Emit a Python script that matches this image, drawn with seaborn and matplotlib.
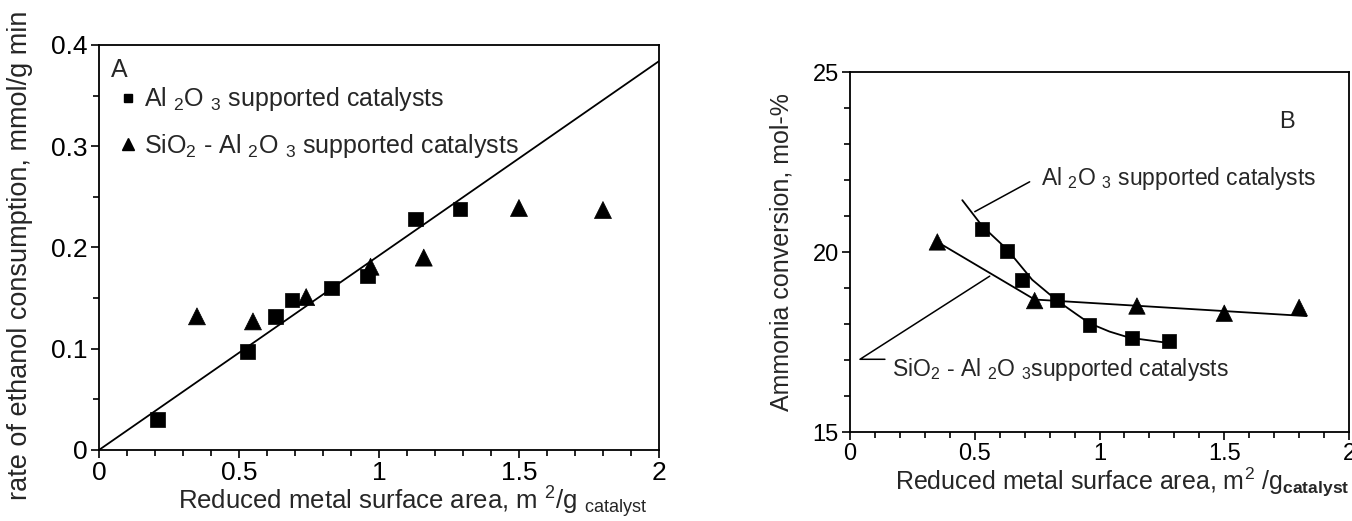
"""
Two-panel catalyst comparison: ethanol consumption rate (A) and ammonia
conversion (B) against reduced metal surface area.
"""

import matplotlib.pyplot as plt
import matplotlib.ticker as mticker
import pandas as pd
import seaborn as sns

# --- Data ---

# Panel A: rate of ethanol consumption, mmol/g min
a_al_x = [0.21, 0.53, 0.63, 0.69, 0.83, 0.96, 1.13, 1.29]
a_al_y = [0.030, 0.097, 0.132, 0.148, 0.160, 0.172, 0.228, 0.238]
a_si_x = [0.35, 0.55, 0.74, 0.97, 1.16, 1.50, 1.80]
a_si_y = [0.132, 0.127, 0.151, 0.181, 0.190, 0.239, 0.237]
a_fit_x = [0.0, 2.0]
a_fit_y = [0.0, 0.384]

# Panel B: ammonia conversion, mol-%
b_al_x = [0.53, 0.63, 0.69, 0.83, 0.96, 1.13, 1.28]
b_al_y = [20.65, 20.02, 19.22, 18.67, 17.98, 17.60, 17.52]
b_si_x = [0.35, 0.74, 1.15, 1.50, 1.80]
b_si_y = [20.28, 18.65, 18.50, 18.30, 18.46]
# hand-drawn trend curves
b_al_curve_x = [0.45, 0.53, 0.63, 0.73, 0.83, 0.91, 0.96, 1.04, 1.12, 1.28]
b_al_curve_y = [21.44, 20.72, 20.07, 19.23, 18.65, 18.26, 18.02, 17.79, 17.62, 17.47]
b_si_curve_x = [0.35, 0.74, 1.83]
b_si_curve_y = [20.28, 18.68, 18.22]

# annotation leader lines in panel B
lead_al_x = [0.50, 0.72]
lead_al_y = [21.12, 21.95]
lead_si_x = [0.56, 0.04, 0.14]
lead_si_y = [19.33, 17.02, 17.02]

SUB2 = r"$_\mathregular{2}$"
SUB3 = r"$_\mathregular{3}$"
A_AL_LABEL = f"Al {SUB2}O {SUB3} supported catalysts"
A_SI_LABEL = f"SiO{SUB2} - Al {SUB2}O {SUB3} supported catalysts"
B_AL_LABEL = f"Al {SUB2}O {SUB3} supported catalysts"
B_SI_LABEL = f"SiO{SUB2} - Al {SUB2}O {SUB3}supported catalysts"

sns.set_style("ticks")
plt.rcParams["font.family"] = ["Liberation Sans", "DejaVu Sans"]
plt.rcParams["mathtext.fontset"] = "custom"
plt.rcParams["mathtext.rm"] = "Liberation Sans"
plt.rcParams["mathtext.it"] = "Liberation Sans:italic"
plt.rcParams["mathtext.bf"] = "Liberation Sans:bold"
plt.rcParams["axes.edgecolor"] = "black"
plt.rcParams["axes.linewidth"] = 1.3


def style_axes(ax, tick_size):
    ax.tick_params(which="both", direction="out", color="black", width=1.2,
                   top=False, right=False, labelsize=tick_size,
                   labelcolor="black", pad=2)
    ax.tick_params(which="major", length=6)
    ax.tick_params(which="minor", length=4)
    ax.xaxis.set_major_locator(mticker.MultipleLocator(0.5))
    ax.xaxis.set_minor_locator(mticker.MultipleLocator(0.1))
    ax.xaxis.set_major_formatter(mticker.FormatStrFormatter("%g"))
    ax.yaxis.set_major_formatter(mticker.FormatStrFormatter("%g"))
    for s in ax.spines.values():
        s.set_visible(True)
        s.set_color("black")


fig = plt.figure(figsize=(13.52, 5.21), dpi=100)
ax_a = fig.add_axes([0.0732, 0.1363, 0.4142, 0.7774])
ax_b = fig.add_axes([0.6287, 0.1708, 0.3691, 0.6910])

# --- Panel A ---
df_a = pd.DataFrame({
    "x": a_al_x + a_si_x,
    "y": a_al_y + a_si_y,
    "support": ["Al"] * len(a_al_x) + ["Si"] * len(a_si_x),
})
sns.lineplot(x=a_fit_x, y=a_fit_y, ax=ax_a, color="black", lw=1.3)
sns.scatterplot(data=df_a, x="x", y="y", style="support", size="support",
                markers={"Al": "s", "Si": "^"}, sizes={"Al": 110, "Si": 150},
                ax=ax_a, color="black", edgecolor="black", linewidth=0.5,
                legend=False)
ax_a.set_xlim(0, 2)
ax_a.set_ylim(0, 0.4)
style_axes(ax_a, 19)
ax_a.yaxis.set_major_locator(mticker.MultipleLocator(0.1))
ax_a.yaxis.set_minor_locator(mticker.MultipleLocator(0.05))
ax_a.set_xlabel(r"Reduced metal surface area, m $^\mathregular{2}$/g "
                r"$_\mathregular{catalyst}$", fontsize=18.5)
ax_a.xaxis.set_label_coords(0.56, -0.085)
ax_a.set_ylabel("rate of ethanol consumption, mmol/g min", fontsize=19.5)
ax_a.yaxis.set_label_coords(-0.118, 0.48)
ax_a.text(0.021, 0.938, "A", transform=ax_a.transAxes, fontsize=18,
          va="center", ha="left")
handles = [
    plt.Line2D([], [], ls="none", marker="s", color="black", markersize=6),
    plt.Line2D([], [], ls="none", marker="^", color="black", markersize=8),
]
ax_a.legend(handles, [A_AL_LABEL, A_SI_LABEL], loc="upper left",
            bbox_to_anchor=(0.034, 0.9), frameon=False, fontsize=18,
            handlelength=0.8, handletextpad=0.25, labelspacing=0.75,
            borderaxespad=0, borderpad=0)

# --- Panel B ---
df_b = pd.DataFrame({
    "x": b_al_x + b_si_x,
    "y": b_al_y + b_si_y,
    "support": ["Al"] * len(b_al_x) + ["Si"] * len(b_si_x),
})
sns.lineplot(x=b_al_curve_x, y=b_al_curve_y, ax=ax_b, color="black", lw=1.3,
             sort=False)
sns.lineplot(x=b_si_curve_x, y=b_si_curve_y, ax=ax_b, color="black", lw=1.3,
             sort=False)
sns.scatterplot(data=df_b, x="x", y="y", style="support", size="support",
                markers={"Al": "s", "Si": "^"}, sizes={"Al": 100, "Si": 140},
                ax=ax_b, color="black", edgecolor="black", linewidth=0.5,
                legend=False)
ax_b.plot(lead_al_x, lead_al_y, color="black", lw=1.1)
ax_b.plot(lead_si_x, lead_si_y, color="black", lw=1.1)
ax_b.text(0.765, 22.05, B_AL_LABEL, fontsize=16.5, va="center", ha="left")
ax_b.text(0.17, 16.75, B_SI_LABEL, fontsize=16.5, va="center", ha="left")
ax_b.text(1.72, 23.6, "B", fontsize=17, va="center", ha="left")
ax_b.set_xlim(0, 2)
ax_b.set_ylim(15, 25)
style_axes(ax_b, 17)
ax_b.yaxis.set_major_locator(mticker.MultipleLocator(5))
ax_b.yaxis.set_minor_locator(mticker.MultipleLocator(1))
ax_b.set_xlabel(r"Reduced metal surface area, m$^\mathregular{2}$ "
                r"/g$_\mathbf{catalyst}$", fontsize=18)
ax_b.xaxis.set_label_coords(0.546, -0.095)
ax_b.set_ylabel("Ammonia conversion, mol-%", fontsize=18)
ax_b.yaxis.set_label_coords(-0.114, 0.5)

fig.savefig("out.png", dpi=100)
